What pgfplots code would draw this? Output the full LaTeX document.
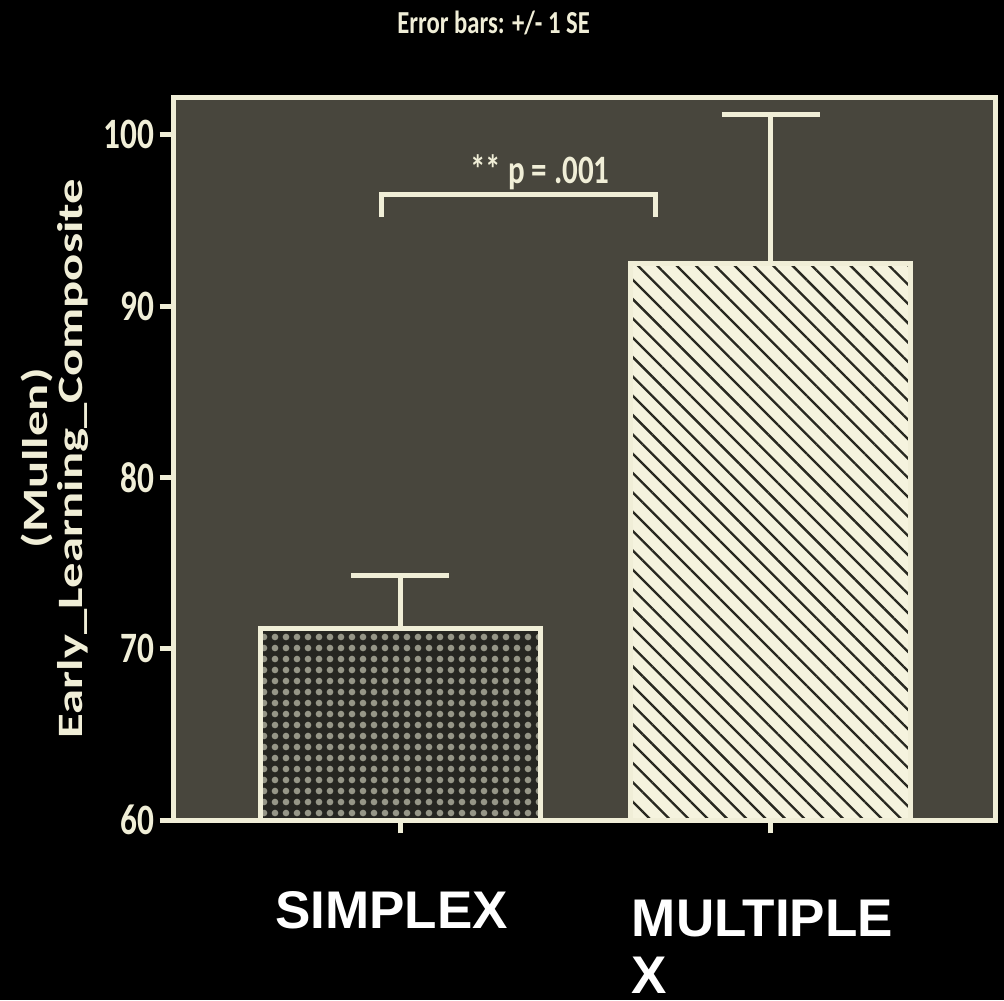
\documentclass[border=0pt]{standalone}
\usepackage{fontspec}
\usepackage{graphicx}
\usepackage{pgfplots}
\pgfplotsset{compat=1.18}
\usetikzlibrary{patterns.meta}
\newfontfamily\carlito{Carlito}
\newfontfamily\arial{Liberation Sans}
\definecolor{cream}{RGB}{240,238,215}
\definecolor{plotbg}{RGB}{72,70,61}
\definecolor{dotbg}{RGB}{38,38,33}
\definecolor{dotfg}{RGB}{150,150,135}
\definecolor{hatchbg}{RGB}{245,243,222}
\definecolor{hatchfg}{RGB}{40,40,32}

\begin{document}
\begin{tikzpicture}
\useasboundingbox (0,0) rectangle (301.2pt,300pt);
\fill[black] (0,0) rectangle (301.2pt,300pt);
\begin{axis}[
  at={(51.9pt,54pt)}, anchor=south west,
  scale only axis, width=246.6pt, height=216.9pt,
  xmin=-0.612, xmax=1.604, ymin=60, ymax=102.2,
  axis background/.style={fill=plotbg},
  axis line style={cream, line width=1.5pt},
  axis on top,
  tick align=outside, tick pos=left, major tick length=4pt,
  tick style={cream, line width=1.5pt},
  xtick={0,1},
  xticklabels={SIMPLEX,{\rule{0pt}{13.5pt}MULTIPLE\\X}},
  xticklabel style={font=\arial\bfseries\fontsize{15.9}{17.2}\selectfont, text=white,
    align=left, inner sep=0pt, anchor=north, yshift=-17.1pt, xshift=-2.55pt},
  ytick={60,70,80,90,100},
  yticklabel={\scalebox{1}[1.3]{\pgfmathprintnumber{\tick}}},
  yticklabel style={font=\carlito\bfseries\fontsize{10}{12}\selectfont, text=cream, inner sep=1.5pt},
  /pgf/number format/assume math mode=true,
  ylabel={\scalebox{1.42}[1]{\begin{tabular}{@{}c@{}}(Mullen)\\Early\_Learning\_Composite\end{tabular}}},
  ylabel style={font=\carlito\bfseries\fontsize{10.7}{10.5}\selectfont, text=cream,
    at={(axis description cs:-0.141,0.5)}, anchor=center},
  title={\scalebox{1}[1.3]{Error bars: +/- 1 SE}},
  title style={font=\carlito\bfseries\fontsize{7.4}{9}\selectfont, text=cream,
    at={(axis description cs:0.39,1.075)}, anchor=center},
]
% SIMPLEX
\addplot[ybar, bar width=84pt, bar shift=0pt, draw=cream, line width=1.5pt, fill=dotbg,
  postaction={pattern={Dots[distance=3.3pt,radius=1pt]}, pattern color=dotfg},
  error bars/.cd, y dir=plus, y explicit,
  error bar style={cream, line width=1.5pt},
  error mark options={rotate=90, cream, line width=1.5pt, mark size=14.7pt}]
  coordinates {(0,71.2) +- (0,3.05)};
% MULTIPLEX
\addplot[ybar, bar width=84pt, bar shift=0pt, draw=cream, line width=1.5pt, fill=hatchbg,
  postaction={pattern={Lines[angle=-45,distance=4.1pt,line width=0.7pt]}, pattern color=hatchfg},
  error bars/.cd, y dir=plus, y explicit,
  error bar style={cream, line width=1.5pt},
  error mark options={rotate=90, cream, line width=1.5pt, mark size=14.7pt}]
  coordinates {(1,92.5) +- (0,8.7)};
% significance bracket
\addplot[cream, line width=1.5pt, mark=none, sharp plot]
  coordinates {(-0.05,95.2) (-0.05,96.5) (0.69,96.5) (0.69,95.2)};
\node[font=\carlito\bfseries\fontsize{9.3}{11}\selectfont, text=cream] at (axis cs:0.377,97.8)
  {\scalebox{1}[1.3]{** p = .001}};
\end{axis}
\end{tikzpicture}
\end{document}
